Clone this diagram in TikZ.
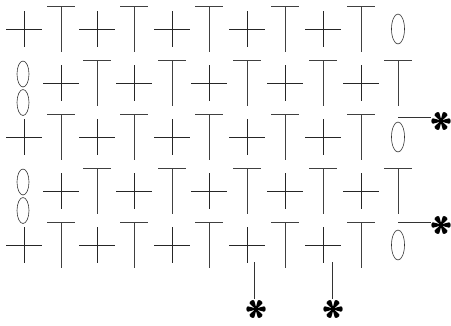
\documentclass[tikz,border=0pt]{standalone}
\begin{document}
\begin{tikzpicture}[x=1pt,y=-1pt,
  plusline/.style={line width=1pt, black!85},
  tline/.style={line width=0.8pt, black!75},
  ovalline/.style={line width=0.6pt, black!80},
  leadline/.style={line width=0.7pt, black!80},
  starnode/.style={circle, inner sep=0pt, minimum size=19pt},
  pics/plussym/.style={code={\draw[plusline] (-18,0) -- (18,0) (0,-18) -- (0,18);}},
  pics/tsym/.style={code={\draw[tline] (-14,-23) -- (14,-23) (0,-23) -- (0,23);}},
  pics/chain/.style={code={\draw[ovalline] (0,0) ellipse [x radius=6.5, y radius=15];}},
  pics/chainpair/.style={code={\draw[ovalline] (0,-9) ellipse [x radius=6, y radius=13] (0,19.5) ellipse [x radius=6, y radius=13];}},
  pics/starsym/.style={code={\fill[black] (0,0) circle (1.2);
     \foreach \a in {0,60,...,300}{
     \fill[black, rotate=\a] (0,-0.5) .. controls (3,-0.6) and (5.5,-2.8) .. (8,-2.7)
       .. controls (10.2,-2.5) and (10.2,2.5) .. (8,2.7)
       .. controls (5.5,2.8) and (3,0.6) .. (0,0.5) -- cycle;}}}
]
\useasboundingbox (0,0) rectangle (451,325);
% odd rows
\foreach \y in {29,137,245} {
  \foreach \x in {24,97,172,247,323} \pic at (\x,\y) {plussym};
  \foreach \x in {61,134,209,285,361} \pic at (\x,\y) {tsym};
  \pic at (398,\y) {chain};
}
% even rows
\foreach \y in {83,191} {
  \pic at (23,\y) {chainpair};
  \foreach \x in {61,134,209,285,361} \pic at (\x,\y) {plussym};
  \foreach \x in {97,172,247,323,398} \pic at (\x,\y) {tsym};
}
% stars
\node[starnode] (s1) at (441,121) {};
\node[starnode] (s2) at (441,225) {};
\node[starnode] (s3) at (256,309) {};
\node[starnode] (s4) at (333,309) {};
\foreach \s in {s1,s2,s3,s4} \pic at (\s) {starsym};
% connector start points
\coordinate (a1) at (398,117);
\coordinate (a2) at (398,222);
\coordinate (b1) at (254,262);
\coordinate (b2) at (332,262);
\draw[leadline] (a1) -- (a1 -| s1.west);
\draw[leadline] (a2) -- (a2 -| s2.west);
\draw[leadline] (b1) -- (b1 |- s3.north);
\draw[leadline] (b2) -- (b2 |- s4.north);
\end{tikzpicture}
\end{document}
